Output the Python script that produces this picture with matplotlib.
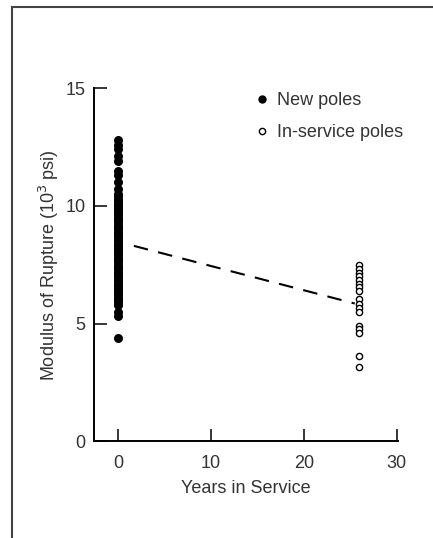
import matplotlib

matplotlib.use("Agg")
import matplotlib.pyplot as plt
from matplotlib.lines import Line2D

plt.rcParams["font.family"] = ["Liberation Sans", "DejaVu Sans"]

# new poles, all tested at 0 years
new_years = 0
new_mor = [4.4, 5.3, 5.5, 5.8, 5.9, 6.0, 6.1, 6.2, 6.3, 6.4, 6.5, 6.6, 6.7, 6.8,
           6.9, 7.0, 7.1, 7.2, 7.3, 7.4, 7.5, 7.6, 7.7, 7.8, 7.9, 8.0, 8.1, 8.2,
           8.3, 8.4, 8.5, 8.6, 8.7, 8.8, 8.9, 9.0, 9.1, 9.2, 9.3, 9.4, 9.5, 9.6,
           9.7, 9.8, 9.9, 10.0, 10.1, 10.2, 10.3, 10.4, 10.5, 10.7, 11.0, 11.3,
           11.5, 11.9, 12.1, 12.4, 12.6, 12.8]

# in-service poles, about 26 years old
old_years = 26
old_mor = [7.47, 7.3, 7.15, 7.0, 6.85, 6.7, 6.55, 6.4, 6.05, 5.85, 5.65, 5.47,
           4.9, 4.75, 4.6, 3.64, 3.17]

# trend line
trend_years = [1.7, 25.5]
trend_mor = [8.3, 5.85]

txt = "#333333"
fs = 13

fig = plt.figure(figsize=(4.33, 5.38), dpi=100)
ax = fig.add_axes([0.217, 0.180, 0.703, 0.656])

ax.scatter([new_years] * len(new_mor), new_mor, s=30, color="black", zorder=3)
ax.scatter([old_years] * len(old_mor), old_mor, s=20, facecolor="white",
           edgecolor="black", linewidth=1.0, zorder=3)
ax.plot(trend_years, trend_mor, color="black", lw=1.5, dashes=(7, 5))

ax.set_xlim(-2.6, 30.2)
ax.set_ylim(0, 15)
ax.set_xticks([0, 10, 20, 30])
ax.set_yticks([0, 5, 10, 15])
ax.spines["top"].set_visible(False)
ax.spines["right"].set_visible(False)
ax.spines["left"].set_linewidth(1.4)
ax.spines["bottom"].set_linewidth(1.4)
ax.tick_params(direction="in", length=9, width=1.1, labelsize=fs,
               labelcolor=txt, pad=10)
ax.tick_params(axis="y", pad=6)

ax.set_xlabel("Years in Service", fontsize=fs, color=txt, labelpad=6)
ax.set_ylabel("Modulus of Rupture (10$^3$ psi)", fontsize=fs, color=txt,
              labelpad=3)

handles = [
    Line2D([], [], ls="none", marker="o", ms=5, color="black"),
    Line2D([], [], ls="none", marker="o", ms=4.5, mfc="white", mec="black"),
]
ax.legend(handles, ["New poles", "In-service poles"], loc="upper left",
          bbox_to_anchor=(0.47, 1.035), frameon=False, fontsize=fs,
          handlelength=1.0, handletextpad=0.3, labelspacing=0.85,
          labelcolor=txt)

# scanned page border
fig.add_artist(Line2D([12 / 433, 1.0], [1 - 7 / 538, 1 - 7 / 538],
                      transform=fig.transFigure, color="#444444", lw=1.5))
fig.add_artist(Line2D([12 / 433, 12 / 433], [0, 1 - 7 / 538],
                      transform=fig.transFigure, color="#444444", lw=1.5))

fig.savefig("out.png", dpi=100)
